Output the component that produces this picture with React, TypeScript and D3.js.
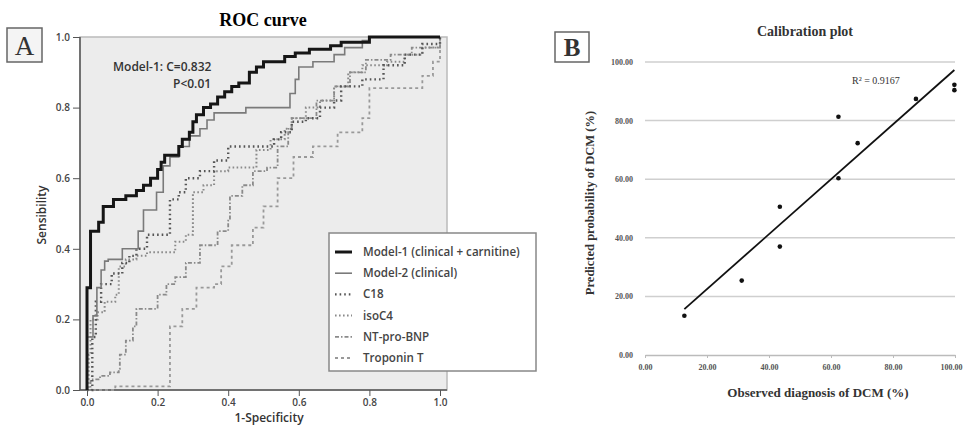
import { useEffect, useRef } from 'react';
import * as d3 from 'd3';

// ROC curves, [1-specificity, sensitivity], drawn as steps
const model1Points = [[0, 0], [0, 0.29], [0.01, 0.45], [0.033, 0.475], [0.046, 0.52], [0.075, 0.54], [0.11, 0.55], [0.14, 0.565], [0.16, 0.58], [0.18, 0.6], [0.2, 0.625], [0.21, 0.645], [0.22, 0.665], [0.26, 0.69], [0.27, 0.71], [0.29, 0.73], [0.3, 0.76], [0.31, 0.78], [0.33, 0.8], [0.35, 0.81], [0.37, 0.83], [0.39, 0.845], [0.41, 0.86], [0.43, 0.87], [0.46, 0.9], [0.48, 0.915], [0.5, 0.93], [0.56, 0.945], [0.59, 0.955], [0.63, 0.965], [0.69, 0.975], [0.72, 0.985], [0.8, 1], [1, 1]];
const model2Points = [[0, 0], [0, 0.15], [0.017, 0.21], [0.028, 0.29], [0.04, 0.34], [0.05, 0.365], [0.06, 0.37], [0.1, 0.4], [0.145, 0.45], [0.16, 0.51], [0.197, 0.56], [0.216, 0.635], [0.235, 0.66], [0.26, 0.69], [0.29, 0.72], [0.32, 0.74], [0.34, 0.765], [0.36, 0.785], [0.45, 0.8], [0.575, 0.84], [0.59, 0.88], [0.6, 0.915], [0.64, 0.93], [0.7, 0.95], [0.73, 0.97], [0.78, 0.99], [0.8, 1], [1, 1]];
const c18Points = [[0, 0], [0.015, 0.15], [0.025, 0.25], [0.04, 0.3], [0.07, 0.33], [0.1, 0.36], [0.12, 0.38], [0.14, 0.4], [0.17, 0.44], [0.235, 0.45], [0.235, 0.54], [0.26, 0.56], [0.28, 0.6], [0.32, 0.62], [0.36, 0.65], [0.4, 0.69], [0.51, 0.69], [0.53, 0.71], [0.55, 0.73], [0.58, 0.76], [0.62, 0.77], [0.66, 0.8], [0.7, 0.82], [0.72, 0.86], [0.78, 0.88], [0.84, 0.92], [0.9, 0.95], [0.95, 0.98], [1, 1]];
const isoC4Points = [[0, 0], [0.005, 0.1], [0.01, 0.2], [0.03, 0.22], [0.05, 0.25], [0.08, 0.27], [0.09, 0.29], [0.09, 0.35], [0.11, 0.37], [0.14, 0.38], [0.17, 0.39], [0.22, 0.39], [0.25, 0.42], [0.28, 0.44], [0.3, 0.46], [0.3, 0.56], [0.33, 0.58], [0.36, 0.6], [0.36, 0.62], [0.4, 0.63], [0.47, 0.63], [0.48, 0.68], [0.52, 0.71], [0.56, 0.74], [0.58, 0.77], [0.62, 0.8], [0.66, 0.82], [0.7, 0.86], [0.74, 0.9], [0.78, 0.92], [0.85, 0.93], [0.9, 0.95], [0.95, 0.97], [1, 1]];
const ntProBnpPoints = [[0, 0], [0.01, 0.03], [0.037, 0.04], [0.065, 0.05], [0.09, 0.06], [0.093, 0.1], [0.11, 0.14], [0.13, 0.18], [0.14, 0.23], [0.18, 0.23], [0.2, 0.27], [0.225, 0.3], [0.25, 0.32], [0.28, 0.36], [0.32, 0.41], [0.37, 0.45], [0.4, 0.48], [0.405, 0.55], [0.44, 0.58], [0.47, 0.62], [0.51, 0.63], [0.54, 0.69], [0.57, 0.74], [0.58, 0.77], [0.65, 0.82], [0.7, 0.86], [0.745, 0.9], [0.79, 0.935], [0.86, 0.95], [0.92, 0.97], [1, 1]];
const troponinTPoints = [[0, 0], [0.08, 0.01], [0.2, 0.01], [0.235, 0.18], [0.27, 0.23], [0.31, 0.29], [0.36, 0.3], [0.38, 0.35], [0.41, 0.41], [0.47, 0.46], [0.5, 0.52], [0.54, 0.6], [0.585, 0.66], [0.64, 0.69], [0.71, 0.73], [0.78, 0.77], [0.8, 0.79], [0.8, 0.855], [0.915, 0.855], [0.95, 0.89], [0.98, 0.93], [1, 0.98], [1, 1]];

const rocNames = ['Model-1 (clinical + carnitine)', 'Model-2 (clinical)', 'C18', 'isoC4', 'NT-pro-BNP', 'Troponin T'];
const rocTicks = [0, 0.2, 0.4, 0.6, 0.8, 1.0];

// calibration plot
const observed = [12.7, 31.2, 43.5, 43.5, 62.4, 62.4, 68.6, 87.4, 99.8, 99.8];
const predicted = [13.4, 25.4, 50.6, 37.0, 81.3, 60.3, 72.3, 87.4, 92.2, 90.4];
const calibTicks = [0, 20, 40, 60, 80, 100];

const SANS = '"Open Sans", "DejaVu Sans", sans-serif';
const SERIF = '"Liberation Serif", "DejaVu Serif", serif';

export default function App() {
    const ref = useRef<SVGSVGElement>(null);

    useEffect(() => {
        const svg = d3.select(ref.current);
        svg.selectAll('*').remove();

        // ---------- panel A: ROC ----------
        const x = d3.scaleLinear().domain([0, 1]).range([87, 440]);
        const y = d3.scaleLinear().domain([0, 1]).range([390, 37]);

        svg.append('text')
            .attr('x', 263).attr('y', 26)
            .attr('text-anchor', 'middle')
            .style('font-family', SERIF).style('font-weight', 'bold').style('font-size', '18px')
            .text('ROC curve');

        svg.append('rect').attr('x', 7).attr('y', 28).attr('width', 35).attr('height', 34)
            .attr('fill', '#f4f4f4').attr('stroke', '#666').attr('stroke-width', 1.5);
        svg.append('text').attr('x', 24.5).attr('y', 55).attr('text-anchor', 'middle')
            .style('font-family', SERIF).style('font-size', '27px').attr('fill', '#333').text('A');

        svg.append('rect').attr('x', 80).attr('y', 37).attr('width', 367).attr('height', 353)
            .attr('fill', '#ececec').attr('stroke', '#bbb').attr('stroke-width', 1.5);

        // axes
        const ax = svg.append('g').attr('transform', 'translate(0,390)')
            .call(d3.axisBottom(x).tickValues(rocTicks).tickFormat(d3.format('.1f')).tickSize(6).tickSizeOuter(0));
        ax.select('.domain').attr('d', 'M80,0H447').attr('stroke', '#555').attr('stroke-width', 1.5);
        const ay = svg.append('g').attr('transform', 'translate(80,0)')
            .call(d3.axisLeft(y).tickValues(rocTicks).tickFormat(d3.format('.1f')).tickSize(7).tickSizeOuter(0));
        ay.select('.domain').attr('d', 'M0,37V390').attr('stroke', '#555').attr('stroke-width', 1.5);
        [ax, ay].forEach(g => {
            g.selectAll('line').attr('stroke', '#555');
            g.selectAll('text').style('font-family', SANS).style('font-size', '10px')
                .style('font-weight', '600').attr('fill', '#444');
        });

        svg.append('text').attr('x', 269).attr('y', 422).attr('text-anchor', 'middle')
            .style('font-family', SANS).style('font-size', '12px').style('font-weight', '600').attr('fill', '#333')
            .text('1-Specificity');
        svg.append('text').attr('transform', 'translate(46,215) rotate(-90)').attr('text-anchor', 'middle')
            .style('font-family', SANS).style('font-size', '12px').style('font-weight', '600').attr('fill', '#333')
            .text('Sensibility');

        svg.append('text').attr('x', 113).attr('y', 71)
            .style('font-family', SANS).style('font-size', '12px').style('font-weight', '600').attr('fill', '#333')
            .text('Model-1: C=0.832');
        svg.append('text').attr('x', 173).attr('y', 88)
            .style('font-family', SANS).style('font-size', '12px').style('font-weight', '600').attr('fill', '#333')
            .text('P<0.01');

        const styles = [
            { stroke: '#161616', width: 3, dash: null },
            { stroke: '#7a7a7a', width: 1.6, dash: null },
            { stroke: '#555', width: 2.4, dash: '1.6,3' },
            { stroke: '#8a8a8a', width: 2, dash: '1.6,2.4' },
            { stroke: '#8a8a8a', width: 1.8, dash: '4,2,1.5,2' },
            { stroke: '#999', width: 1.8, dash: '3,3' }
        ];
        const rocData = [model1Points, model2Points, c18Points, isoC4Points, ntProBnpPoints, troponinTPoints];

        const line = d3.line<number[]>()
            .x(d => x(d[0]))
            .y(d => y(d[1]))
            .curve(d3.curveStepAfter);

        // draw dotted first, models on top
        [5, 4, 3, 2, 1, 0].forEach(i => {
            svg.append('path')
                .datum(rocData[i])
                .attr('fill', 'none')
                .attr('stroke', styles[i].stroke)
                .attr('stroke-width', styles[i].width)
                .attr('stroke-dasharray', styles[i].dash)
                .attr('d', line);
        });

        // legend
        svg.append('rect').attr('x', 329).attr('y', 233).attr('width', 207).attr('height', 138)
            .attr('fill', '#fff').attr('stroke', '#888').attr('stroke-width', 1.5);
        rocNames.forEach((name, i) => {
            const ly = 252 + i * 21.2;
            svg.append('line').attr('x1', 335).attr('x2', 352).attr('y1', ly).attr('y2', ly)
                .attr('stroke', styles[i].stroke).attr('stroke-width', styles[i].width)
                .attr('stroke-dasharray', styles[i].dash);
            svg.append('text').attr('x', 363).attr('y', ly + 4)
                .style('font-family', SANS).style('font-size', '11.6px').style('font-weight', '600').attr('fill', '#444')
                .text(name);
        });

        // ---------- panel B: calibration ----------
        const xb = d3.scaleLinear().domain([0, 100]).range([645, 955]);
        const yb = d3.scaleLinear().domain([0, 100]).range([355, 62]);

        svg.append('rect').attr('x', 555).attr('y', 32).attr('width', 34).attr('height', 30)
            .attr('fill', '#fff').attr('stroke', '#666').attr('stroke-width', 1.5);
        svg.append('text').attr('x', 572).attr('y', 56).attr('text-anchor', 'middle')
            .style('font-family', SERIF).style('font-weight', 'bold').style('font-size', '25px').attr('fill', '#333').text('B');

        svg.append('text').attr('x', 805).attr('y', 36).attr('text-anchor', 'middle')
            .style('font-family', SERIF).style('font-weight', 'bold').style('font-size', '14px').attr('fill', '#333')
            .text('Calibration plot');

        svg.append('g').selectAll('line').data(calibTicks.slice(1)).join('line')
            .attr('x1', xb(0)).attr('x2', xb(100))
            .attr('y1', d => yb(d)).attr('y2', d => yb(d))
            .attr('stroke', '#cfcfcf').attr('stroke-width', 1.5);

        const bx = svg.append('g').attr('transform', `translate(0,${yb(0)})`)
            .call(d3.axisBottom(xb).tickValues(calibTicks).tickFormat(d3.format('.2f')).tickSize(3).tickSizeOuter(0));
        bx.select('.domain').attr('stroke', '#bbb').attr('stroke-width', 1.5);
        bx.selectAll('line').attr('stroke', '#bbb');
        bx.selectAll('text').attr('dy', '1.1em');
        // keep the last label inside the picture
        bx.selectAll<SVGTextElement, number>('text').filter(d => d === 100)
            .attr('text-anchor', 'end').attr('x', 7);
        const by = svg.append('g').attr('transform', `translate(${xb(0)},0)`)
            .call(d3.axisLeft(yb).tickValues(calibTicks).tickFormat(d3.format('.2f')).tickSize(0).tickPadding(12));
        by.select('.domain').remove();
        [bx, by].forEach(g => g.selectAll('text').style('font-family', SERIF).style('font-size', '8px')
            .style('font-weight', 'bold').attr('fill', '#555'));

        // least squares trend line
        const mx = d3.mean(observed) as number;
        const my = d3.mean(predicted) as number;
        const slope = d3.sum(observed, (v, i) => (v - mx) * (predicted[i] - my)) / d3.sum(observed, v => (v - mx) ** 2);
        const icpt = my - slope * mx;
        const x0 = d3.min(observed) as number;
        const x1 = d3.max(observed) as number;
        svg.append('line')
            .attr('x1', xb(x0)).attr('y1', yb(icpt + slope * x0))
            .attr('x2', xb(x1)).attr('y2', yb(icpt + slope * x1))
            .attr('stroke', '#111').attr('stroke-width', 1.8);

        svg.append('g').selectAll('circle').data(observed).join('circle')
            .attr('cx', d => xb(d)).attr('cy', (_, i) => yb(predicted[i])).attr('r', 2.3).attr('fill', '#111');

        svg.append('text').attr('x', 852).attr('y', 84)
            .style('font-family', SERIF).style('font-size', '10px').attr('fill', '#333')
            .text('R² = 0.9167');

        svg.append('text').attr('x', 818).attr('y', 397).attr('text-anchor', 'middle')
            .style('font-family', SERIF).style('font-weight', 'bold').style('font-size', '13px').attr('fill', '#333')
            .text('Observed diagnosis of DCM (%)');
        svg.append('text').attr('transform', 'translate(594,203) rotate(-90)').attr('text-anchor', 'middle')
            .style('font-family', SERIF).style('font-weight', 'bold').style('font-size', '12.5px').attr('fill', '#333')
            .text('Predicted probability of DCM (%)');
    }, []);

    return (
        <svg ref={ref} width={963} height={434}
            style={{ position: 'absolute', left: 0, top: 0, background: '#fff' }} />
    );
}
